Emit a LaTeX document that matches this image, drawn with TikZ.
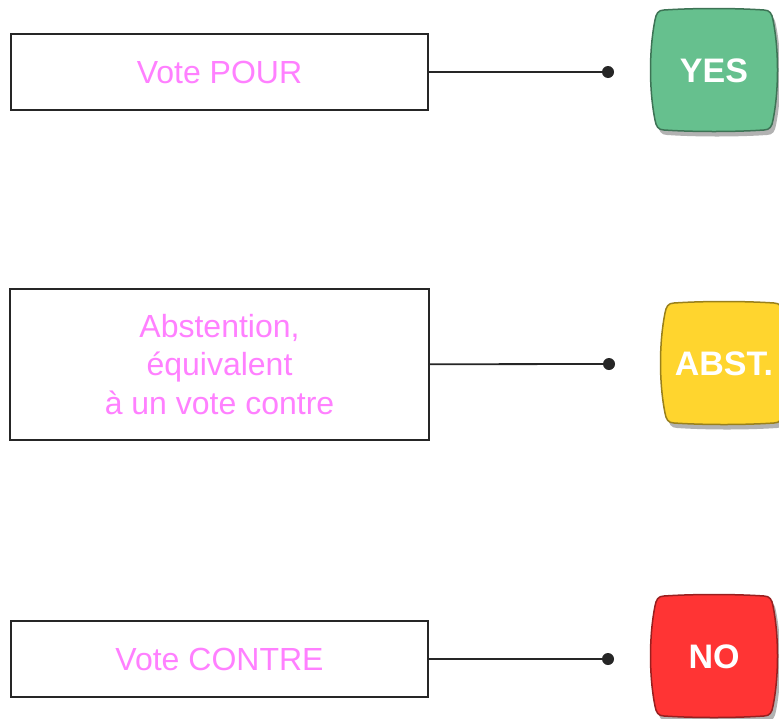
\documentclass[tikz,border=0pt]{standalone}
\usepackage{fontspec}
\setmainfont{Liberation Sans}
\usetikzlibrary{shadows}
\definecolor{votepink}{HTML}{FF80FF}
\definecolor{votegreen}{HTML}{66C08E}
\definecolor{voteyellow}{HTML}{FFD52E}
\definecolor{votered}{HTML}{FF3434}
\definecolor{lineink}{HTML}{262626}
\begin{document}
\begin{tikzpicture}[x=1pt,y=-1pt,
  votebox/.style={draw=lineink, line width=2.2pt, fill=white, inner sep=0pt, align=center,
    text=votepink, font=\fontsize{32}{38.5}\selectfont},
  joint/.style={circle, fill=lineink, inner sep=0pt, minimum size=12pt},
  link/.style={draw=lineink, line width=1.8pt},
  btntext/.style={text=white, font=\bfseries\fontsize{34}{34}\selectfont, inner sep=0pt}]
\useasboundingbox (0,0) rectangle (779,718);
\clip (0,0) rectangle (779,718);
\fill[white] (0,0) rectangle (779,718);
% answer boxes
\node[votebox, minimum width=417pt, minimum height=76pt] (pour) at (219.5,72){Vote POUR};
\node[votebox, minimum width=419pt, minimum height=151pt] (abst) at (219.5,364.5){Abstention,\\ équivalent\\ à un vote contre};
\node[votebox, minimum width=417pt, minimum height=76pt] (contre) at (219.5,659){Vote CONTRE};
\node[joint] (jpour) at (608,72){};
\node[joint] (jabst) at (609,364){};
\node[joint] (jcontre) at (608,659){};
\draw[link](pour) -- (jpour);
\draw[link](abst) -- (jabst);
\draw[link](contre) -- (jcontre);
% buttons
\foreach \nm/\bx/\by/\col/\txt in {yes/714/70/votegreen/YES, abstbtn/724/363/voteyellow/ABST., no/714/656/votered/NO}{
  \path[shift={(\bx,\by)}, fill=\col, draw=\col!60!black, line width=1.5pt,
    drop shadow={shadow xshift=3pt, shadow yshift=-5pt, opacity=0.3, fill=black}]
    (-50,-60) .. controls (-20,-62) and (20,-62) .. (50,-60)
    .. controls (56,-60) and (58,-56) .. (59,-50)
    .. controls (65,-20) and (65,20) .. (59,50)
    .. controls (58,56) and (56,60) .. (50,60)
    .. controls (20,62) and (-20,62) .. (-50,60)
    .. controls (-56,60) and (-58,56) .. (-59,50)
    .. controls (-65,20) and (-65,-20) .. (-59,-50)
    .. controls (-58,-56) and (-56,-60) .. (-50,-60) -- cycle;
  \node[btntext] (\nm) at (\bx,\by+1){\txt};
}
\end{tikzpicture}
\end{document}
